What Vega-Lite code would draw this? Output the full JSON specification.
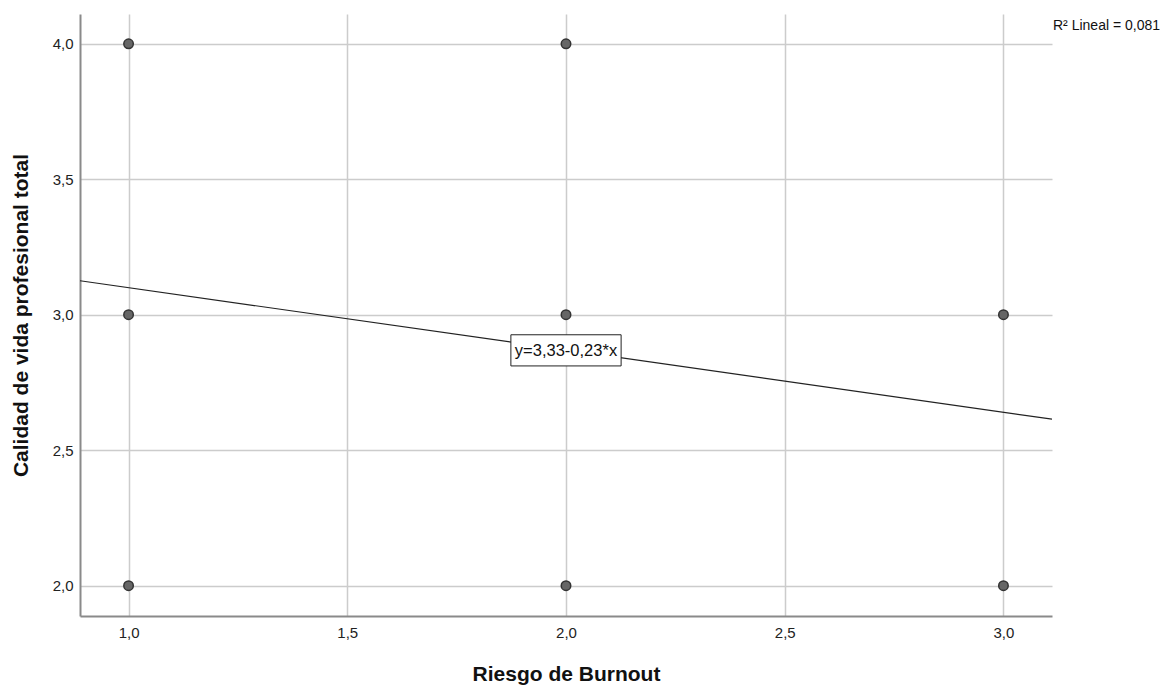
{
  "$schema": "https://vega.github.io/schema/vega-lite/v6.json",
  "width": 972,
  "height": 602,
  "autosize": {"type": "none"},
  "padding": {"left": 80, "top": 14, "right": 116, "bottom": 70},
  "background": "white",
  "config": {
    "view": {"stroke": null},
    "font": "Liberation Sans",
    "axis": {
      "labelFont": "Liberation Sans",
      "labelFontSize": 15,
      "labelColor": "#222222",
      "titleFont": "Liberation Sans",
      "titleFontSize": 21,
      "titleFontWeight": "bold",
      "titleColor": "#111111",
      "gridColor": "#cccccc",
      "gridWidth": 1.5,
      "domainColor": "#8a8a8a",
      "domainWidth": 2,
      "ticks": false
    }
  },
  "datasets": {
    "obs": [
      {"riesgo": 1, "calidad": 4},
      {"riesgo": 1, "calidad": 3},
      {"riesgo": 1, "calidad": 2},
      {"riesgo": 2, "calidad": 4},
      {"riesgo": 2, "calidad": 3},
      {"riesgo": 2, "calidad": 2},
      {"riesgo": 3, "calidad": 3},
      {"riesgo": 3, "calidad": 2}
    ],
    "fit": [
      {"riesgo": 0.889, "calidad": 3.1255},
      {"riesgo": 3.111, "calidad": 2.6145}
    ]
  },
  "layer": [
    {
      "data": {"name": "obs"},
      "mark": {"type": "point", "filled": true, "fill": "#666666", "stroke": "#333333", "strokeWidth": 1.5, "opacity": 1, "size": 90},
      "encoding": {
        "x": {
          "field": "riesgo", "type": "quantitative",
          "scale": {"domain": [0.889, 3.111], "nice": false, "zero": false},
          "axis": {
            "title": "Riesgo de Burnout",
            "values": [1, 1.5, 2, 2.5, 3],
            "labelExpr": "replace(format(datum.value, '.1f'), '.', ',')",
            "labelPadding": 9,
            "titlePadding": 23
          }
        },
        "y": {
          "field": "calidad", "type": "quantitative",
          "scale": {"domain": [1.888, 4.11], "nice": false, "zero": false},
          "axis": {
            "title": "Calidad de vida profesional total",
            "values": [2, 2.5, 3, 3.5, 4],
            "labelExpr": "replace(format(datum.value, '.1f'), '.', ',')",
            "labelPadding": 7,
            "titlePadding": 21
          }
        }
      }
    },
    {
      "data": {"name": "fit"},
      "mark": {"type": "line", "color": "#222222", "strokeWidth": 1.2, "clip": true},
      "encoding": {
        "x": {"field": "riesgo", "type": "quantitative"},
        "y": {"field": "calidad", "type": "quantitative"}
      }
    },
    {
      "data": {"values": [{"eq": "y=3,33-0,23*x"}]},
      "mark": {"type": "rect", "fill": "white", "stroke": "#222222", "strokeWidth": 1},
      "encoding": {
        "x": {"datum": 1.874, "type": "quantitative"},
        "x2": {"datum": 2.126},
        "y": {"datum": 2.926, "type": "quantitative"},
        "y2": {"datum": 2.811}
      }
    },
    {
      "data": {"values": [{"eq": "y=3,33-0,23*x"}]},
      "mark": {"type": "text", "fontSize": 16.5, "color": "#111111", "align": "center", "baseline": "middle", "font": "Liberation Sans"},
      "encoding": {
        "text": {"field": "eq"},
        "x": {"datum": 2.0, "type": "quantitative"},
        "y": {"datum": 2.866, "type": "quantitative"}
      }
    },
    {
      "data": {"values": [{"r2": "R² Lineal = 0,081"}]},
      "mark": {"type": "text", "fontSize": 14, "color": "#111111", "align": "left", "baseline": "middle", "dx": 1, "dy": 1, "clip": false, "font": "Liberation Sans"},
      "encoding": {
        "text": {"field": "r2"},
        "x": {"datum": 3.111, "type": "quantitative"},
        "y": {"datum": 4.07, "type": "quantitative"}
      }
    }
  ]
}
